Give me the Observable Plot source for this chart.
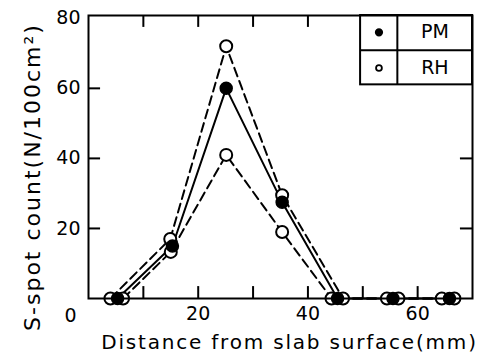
<!DOCTYPE html>
<html>
<head>
<meta charset="utf-8">
<script src="https://cdn.jsdelivr.net/npm/d3@7"></script>
<script src="https://cdn.jsdelivr.net/npm/@observablehq/plot@0.6"></script>
<style>
  html, body { margin: 0; padding: 0; background: #fff; }
  #chart svg { display: block; }
</style>
</head>
<body>
<div id="chart"></div>
<script>
// Data
const pmX  = [5.3, 15.3, 25.1, 35.3, 45.4, 55.5, 65.8];
const pmY  = [0, 15, 60, 27.5, 0, 0, 0];
const rh1X = [4.0, 14.9, 25.1, 35.3, 46.4, 56.5, 66.7];
const rh1Y = [0, 17, 72, 29.5, 0, 0, 0];
const rh2X = [6.3, 15.0, 25.1, 35.3, 44.3, 54.4, 64.4];
const rh2Y = [0, 13.3, 41, 19, 0, 0, 0];

const xTickLabels = [20, 40, 60];
const yTickLabels = [20, 40, 60, 80];
const xBottomTicks = [10, 20, 30, 40, 50, 60];
const xTopTicks = [10, 20, 30, 40];
const yLeftTicks = [20, 40, 60];
const yRightTicks = [20, 40];
const legendLabels = ["PM", "RH"];

const xTitle = "Distance from slab surface(mm)";
const yTitle = "S-spot count(N/100cm²)";

const pm  = pmX.map((x, i) => ({x, y: pmY[i]}));
const rh1 = rh1X.map((x, i) => ({x, y: rh1Y[i]}));
const rh2 = rh2X.map((x, i) => ({x, y: rh2Y[i]}));

const XMAX = 70, YMAX = 80.8;
const tx = 2.2, ty = 3.4; // inward tick lengths in data units
const font = "DejaVu Sans";

// legend box (data units)
const L = {x1: 49.6, x2: XMAX, xm: 56.3, y1: 61, y2: YMAX, ym: 70.9};
const legendRows = legendLabels.map((t, i) => ({t, y: i === 0 ? 76 : 65.8, filled: i === 0}));

const chart = Plot.plot({
  width: 481,
  height: 358,
  marginTop: 15,
  marginRight: 9,
  marginBottom: 60,
  marginLeft: 88,
  x: {domain: [0, XMAX]},
  y: {domain: [0, YMAX]},
  style: {fontFamily: font, background: "#fff", color: "#000"},
  marks: [
    // lines
    Plot.line(rh1, {x: "x", y: "y", stroke: "#000", strokeWidth: 2, strokeDasharray: "9,5"}),
    Plot.line(rh2, {x: "x", y: "y", stroke: "#000", strokeWidth: 2, strokeDasharray: "9,5"}),
    Plot.line(pm,  {x: "x", y: "y", stroke: "#000", strokeWidth: 2}),
    // markers
    Plot.dot(rh1, {x: "x", y: "y", r: 6, fill: "#fff", stroke: "#000", strokeWidth: 2}),
    Plot.dot(rh2, {x: "x", y: "y", r: 6, fill: "#fff", stroke: "#000", strokeWidth: 2}),
    Plot.dot(pm,  {x: "x", y: "y", r: 6, fill: "#000", stroke: "#000"}),
    // inward ticks
    Plot.ruleX(xBottomTicks, {y1: 0, y2: ty, stroke: "#000", strokeWidth: 2}),
    Plot.ruleX(xTopTicks, {y1: YMAX - ty, y2: YMAX, stroke: "#000", strokeWidth: 2}),
    Plot.ruleY(yLeftTicks, {x1: 0, x2: tx, stroke: "#000", strokeWidth: 2}),
    Plot.ruleY(yRightTicks, {x1: XMAX - tx, x2: XMAX, stroke: "#000", strokeWidth: 2}),
    // legend
    Plot.rect([L], {x1: "x1", x2: "x2", y1: "y1", y2: "y2", fill: "#fff", stroke: "#000", strokeWidth: 2}),
    Plot.ruleY([L.ym], {x1: L.x1, x2: L.x2, stroke: "#000", strokeWidth: 2}),
    Plot.ruleX([L.xm], {y1: L.y1, y2: L.y2, stroke: "#000", strokeWidth: 2}),
    Plot.dot(legendRows, {x: (L.x1 + L.xm) / 2, y: "y", r: d => d.filled ? 5.5 : 4.5,
      fill: d => d.filled ? "#000" : "#fff", stroke: "#000", strokeWidth: 1.8}),
    Plot.text(legendRows, {x: (L.xm + L.x2) / 2, y: "y", text: "t", fontSize: 19, fill: "#000"}),
    // frame
    Plot.frame({stroke: "#000", strokeWidth: 2}),
    // axes
    Plot.axisX({ticks: xTickLabels, tickSize: 0, tickPadding: 8, label: null, fontSize: 19}),
    Plot.axisY({ticks: yTickLabels, tickSize: 0, tickPadding: 8, label: null, fontSize: 19}),
    Plot.text(["0"], {x: 0, y: 0, text: d => d, dx: -18, dy: 17, fontSize: 19, fill: "#000"}),
    // titles
    Plot.text([xTitle], {frameAnchor: "bottom", text: d => d, dx: 9, dy: 44, fontSize: 20,
      fill: "#000", lineAnchor: "middle", textAnchor: "middle"}),
    Plot.text([yTitle], {frameAnchor: "left", text: d => d, rotate: -90, dx: -56, dy: 20, fontSize: 22,
      fill: "#000", lineAnchor: "middle", textAnchor: "middle"})
  ]
});
document.getElementById("chart").append(chart);
// letter spacing for titles
chart.querySelectorAll("text").forEach(t => {
  if (t.textContent === xTitle) t.style.letterSpacing = "1.8px";
  if (t.textContent === yTitle) t.style.letterSpacing = "2px";
});
</script>
</body>
</html>
